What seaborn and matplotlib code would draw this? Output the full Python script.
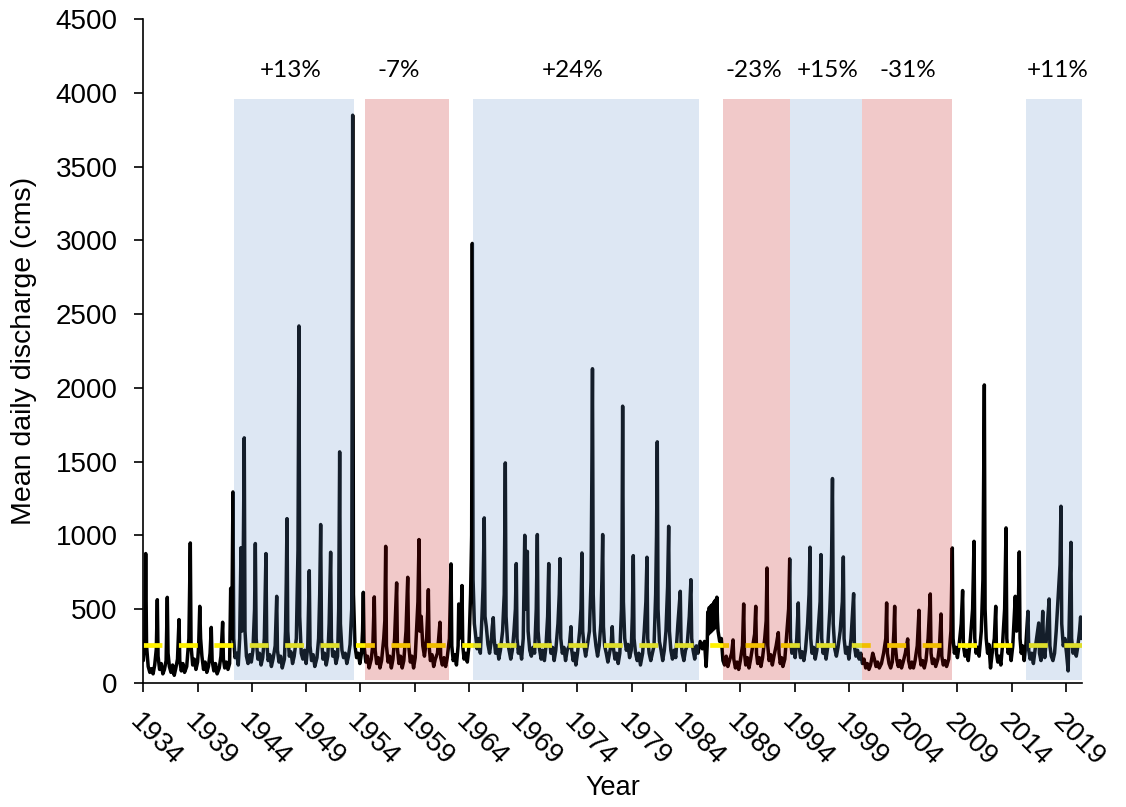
import matplotlib
matplotlib.use("Agg")
import matplotlib.pyplot as plt
import pandas as pd
import seaborn as sns

# ---- hand-read discharge readings (decimal year, cms) ----
readings_1930s = [
    (1934.00, 150), (1934.15, 300), (1934.22, 876), (1934.30, 250), (1934.45, 110), (1934.60, 70), (1934.75, 95), (1934.90, 60),
    (1935.05, 120), (1935.20, 230), (1935.29, 563), (1935.36, 180), (1935.50, 90), (1935.65, 130), (1935.80, 60), (1935.95, 90),
    (1936.10, 150), (1936.21, 579), (1936.28, 200), (1936.40, 110), (1936.55, 70), (1936.70, 120), (1936.85, 50),
    (1937.00, 100), (1937.15, 160), (1937.29, 428), (1937.36, 150), (1937.50, 80), (1937.65, 130), (1937.80, 70),
    (1938.00, 110), (1938.20, 300), (1938.33, 948), (1938.40, 250), (1938.55, 120), (1938.70, 160), (1938.85, 90),
    (1939.00, 140), (1939.10, 250), (1939.20, 518), (1939.28, 300), (1939.40, 180), (1939.55, 90), (1939.70, 140), (1939.85, 70),
]
readings_1940s = [
    (1940.00, 110), (1940.15, 200), (1940.26, 375), (1940.34, 150), (1940.50, 80), (1940.65, 130), (1940.80, 60),
    (1941.00, 100), (1941.15, 180), (1941.31, 410), (1941.38, 160), (1941.50, 100), (1941.65, 140), (1941.80, 90), (1941.95, 130),
    (1942.05, 640), (1942.15, 300), (1942.26, 1294), (1942.33, 300), (1942.45, 170), (1942.60, 200), (1942.75, 120), (1942.88, 300),
    (1943.00, 916), (1943.08, 350), (1943.18, 600), (1943.30, 1661), (1943.37, 350), (1943.50, 180), (1943.65, 130), (1943.80, 190), (1943.95, 140),
    (1944.10, 220), (1944.25, 500), (1944.32, 944), (1944.40, 300), (1944.55, 160), (1944.70, 200), (1944.85, 120),
    (1945.00, 170), (1945.15, 300), (1945.30, 876), (1945.37, 280), (1945.50, 150), (1945.65, 190), (1945.80, 110), (1945.95, 160),
    (1946.15, 250), (1946.29, 586), (1946.36, 220), (1946.50, 140), (1946.65, 180), (1946.80, 100),
    (1947.00, 160), (1947.10, 350), (1947.17, 680), (1947.24, 1113), (1947.31, 350), (1947.45, 180), (1947.60, 210), (1947.75, 130), (1947.90, 180),
    (1948.10, 300), (1948.25, 900), (1948.34, 2420), (1948.41, 450), (1948.55, 200), (1948.70, 160), (1948.85, 220),
    (1949.00, 130), (1949.15, 250), (1949.29, 760), (1949.36, 250), (1949.50, 150), (1949.65, 190), (1949.80, 110),
]
readings_1950s = [
    (1950.00, 170), (1950.15, 300), (1950.25, 600), (1950.34, 1073), (1950.42, 300), (1950.55, 160), (1950.70, 200), (1950.85, 120),
    (1951.00, 180), (1951.12, 400), (1951.26, 885), (1951.33, 300), (1951.45, 180), (1951.60, 210), (1951.75, 130), (1951.90, 180),
    (1952.00, 500), (1952.09, 1566), (1952.16, 400), (1952.30, 220), (1952.45, 170), (1952.60, 200), (1952.75, 130), (1952.90, 180),
    (1953.05, 260), (1953.20, 500), (1953.29, 3850), (1953.36, 600), (1953.50, 250), (1953.65, 170), (1953.80, 200), (1953.95, 130),
    (1954.10, 200), (1954.20, 350), (1954.27, 613), (1954.34, 250), (1954.50, 140), (1954.65, 180), (1954.80, 100),
    (1955.00, 160), (1955.15, 260), (1955.28, 582), (1955.36, 220), (1955.50, 130), (1955.65, 170), (1955.80, 100), (1955.95, 150),
    (1956.15, 300), (1956.25, 420), (1956.33, 925), (1956.40, 250), (1956.55, 140), (1956.70, 180), (1956.85, 100),
    (1957.00, 160), (1957.15, 300), (1957.34, 677), (1957.41, 230), (1957.55, 130), (1957.70, 180), (1957.85, 100),
    (1958.00, 150), (1958.20, 350), (1958.36, 715), (1958.44, 260), (1958.60, 140), (1958.75, 180), (1958.90, 100),
    (1959.05, 170), (1959.20, 400), (1959.30, 550), (1959.40, 971), (1959.47, 350), (1959.60, 450), (1959.75, 250), (1959.90, 180),
]
readings_1960s = [
    (1960.10, 300), (1960.20, 480), (1960.26, 631), (1960.33, 250), (1960.45, 150), (1960.60, 190), (1960.75, 110), (1960.90, 160),
    (1961.10, 200), (1961.33, 410), (1961.40, 170), (1961.55, 120), (1961.70, 170), (1961.85, 110),
    (1962.00, 170), (1962.20, 300), (1962.35, 806), (1962.42, 250), (1962.55, 150), (1962.70, 190), (1962.85, 120),
    (1963.00, 250), (1963.06, 534), (1963.12, 300), (1963.25, 350), (1963.36, 659), (1963.43, 250), (1963.55, 160), (1963.70, 200), (1963.85, 140),
    (1964.00, 250), (1964.15, 600), (1964.25, 1000), (1964.31, 2980), (1964.38, 700), (1964.50, 400), (1964.60, 330), (1964.75, 230), (1964.90, 300),
    (1965.05, 200), (1965.20, 450), (1965.30, 650), (1965.41, 1118), (1965.48, 450), (1965.60, 380), (1965.75, 260), (1965.90, 200),
    (1966.05, 280), (1966.15, 380), (1966.24, 441), (1966.32, 300), (1966.45, 200), (1966.60, 250), (1966.75, 160), (1966.90, 220),
    (1967.10, 350), (1967.25, 600), (1967.35, 1491), (1967.42, 450), (1967.55, 280), (1967.70, 220), (1967.85, 160),
    (1968.00, 220), (1968.15, 350), (1968.28, 500), (1968.36, 808), (1968.43, 300), (1968.55, 200), (1968.70, 240), (1968.85, 160),
    (1969.00, 300), (1969.14, 1000), (1969.22, 500), (1969.30, 600), (1969.38, 891), (1969.45, 350), (1969.60, 220), (1969.75, 180), (1969.90, 240),
]
readings_1970s = [
    (1970.05, 200), (1970.20, 500), (1970.30, 1005), (1970.37, 350), (1970.50, 230), (1970.65, 160), (1970.80, 220), (1970.95, 150),
    (1971.10, 250), (1971.25, 450), (1971.35, 808), (1971.42, 300), (1971.55, 200), (1971.70, 240), (1971.85, 150),
    (1972.00, 220), (1972.20, 400), (1972.32, 600), (1972.39, 842), (1972.46, 300), (1972.60, 200), (1972.75, 240), (1972.90, 150),
    (1973.05, 220), (1973.25, 250), (1973.40, 380), (1973.47, 220), (1973.60, 150), (1973.72, 200), (1973.85, 120),
    (1974.00, 200), (1974.20, 350), (1974.32, 500), (1974.41, 880), (1974.48, 350), (1974.60, 250), (1974.75, 180), (1974.90, 250),
    (1975.10, 350), (1975.25, 700), (1975.32, 1380), (1975.38, 2130), (1975.45, 600), (1975.55, 350), (1975.70, 250), (1975.85, 180),
    (1976.00, 250), (1976.15, 400), (1976.25, 700), (1976.32, 1005), (1976.39, 380), (1976.50, 250), (1976.65, 200), (1976.80, 140), (1976.95, 200),
    (1977.10, 260), (1977.20, 380), (1977.28, 250), (1977.45, 160), (1977.60, 200), (1977.75, 130), (1977.90, 200),
    (1978.05, 500), (1978.10, 850), (1978.16, 1876), (1978.23, 550), (1978.35, 300), (1978.50, 220), (1978.65, 260), (1978.80, 170), (1978.95, 220),
    (1979.05, 450), (1979.14, 862), (1979.21, 300), (1979.35, 200), (1979.50, 150), (1979.65, 200), (1979.80, 120),
]
readings_1980s = [
    (1980.00, 200), (1980.15, 350), (1980.30, 550), (1980.40, 851), (1980.47, 300), (1980.60, 200), (1980.75, 150), (1980.90, 200),
    (1981.05, 250), (1981.20, 600), (1981.28, 1000), (1981.35, 1634), (1981.42, 500), (1981.55, 280), (1981.70, 220), (1981.85, 150),
    (1982.00, 220), (1982.15, 350), (1982.30, 650), (1982.40, 1061), (1982.47, 350), (1982.60, 220), (1982.75, 160), (1982.90, 220),
    (1983.05, 170), (1983.25, 400), (1983.47, 620), (1983.54, 280), (1983.65, 200), (1983.80, 150), (1983.95, 220),
    (1984.10, 250), (1984.30, 450), (1984.45, 699), (1984.52, 300), (1984.65, 220), (1984.80, 160), (1984.95, 250),
    (1985.10, 200), (1985.30, 280), (1985.50, 230), (1985.70, 280), (1985.85, 110), (1985.95, 250),
    (1986.00, 480), (1986.07, 330), (1986.14, 510), (1986.21, 340), (1986.28, 520), (1986.35, 350), (1986.42, 530),
    (1986.49, 360), (1986.56, 545), (1986.63, 370), (1986.70, 560), (1986.77, 380), (1986.84, 580), (1986.90, 420), (1986.95, 350),
    (1987.10, 280), (1987.25, 300), (1987.40, 150), (1987.55, 120), (1987.70, 180), (1987.85, 110),
    (1988.00, 150), (1988.20, 200), (1988.33, 290), (1988.40, 160), (1988.55, 100), (1988.70, 140), (1988.85, 90),
    (1989.00, 150), (1989.20, 250), (1989.31, 534), (1989.38, 200), (1989.50, 120), (1989.65, 170), (1989.80, 100), (1989.95, 160),
]
readings_1990s = [
    (1990.15, 250), (1990.32, 330), (1990.42, 518), (1990.49, 200), (1990.60, 130), (1990.75, 170), (1990.90, 110),
    (1991.05, 170), (1991.25, 300), (1991.38, 420), (1991.46, 778), (1991.53, 250), (1991.65, 150), (1991.80, 190), (1991.95, 120),
    (1992.10, 180), (1992.30, 250), (1992.50, 340), (1992.57, 200), (1992.68, 130), (1992.80, 170), (1992.92, 110),
    (1993.10, 160), (1993.30, 350), (1993.45, 500), (1993.55, 840), (1993.62, 300), (1993.75, 200), (1993.90, 250),
    (1994.05, 170), (1994.20, 300), (1994.34, 541), (1994.41, 250), (1994.55, 170), (1994.70, 210), (1994.85, 150),
    (1995.00, 220), (1995.20, 400), (1995.33, 600), (1995.42, 919), (1995.49, 300), (1995.60, 200), (1995.75, 240), (1995.90, 160),
    (1996.05, 220), (1996.20, 380), (1996.35, 550), (1996.43, 869), (1996.50, 300), (1996.62, 200), (1996.75, 240), (1996.90, 160),
    (1997.05, 240), (1997.25, 500), (1997.40, 800), (1997.49, 1385), (1997.56, 400), (1997.70, 230), (1997.85, 180),
    (1998.00, 240), (1998.20, 350), (1998.40, 550), (1998.49, 853), (1998.56, 300), (1998.70, 200), (1998.85, 240),
    (1999.00, 160), (1999.20, 300), (1999.44, 604), (1999.51, 250), (1999.65, 180), (1999.80, 220), (1999.95, 160),
]
readings_2000s = [
    (2000.10, 200), (2000.25, 130), (2000.40, 160), (2000.55, 100), (2000.70, 130), (2000.85, 90),
    (2001.00, 120), (2001.20, 200), (2001.35, 160), (2001.50, 110), (2001.65, 140), (2001.80, 100),
    (2002.00, 130), (2002.20, 200), (2002.40, 300), (2002.48, 541), (2002.55, 200), (2002.70, 130), (2002.85, 100),
    (2003.00, 140), (2003.15, 350), (2003.22, 518), (2003.28, 250), (2003.40, 160), (2003.55, 110), (2003.70, 150), (2003.85, 100),
    (2004.00, 140), (2004.20, 200), (2004.42, 297), (2004.50, 150), (2004.65, 100), (2004.80, 140), (2004.95, 100),
    (2005.10, 150), (2005.30, 250), (2005.46, 491), (2005.53, 180), (2005.65, 120), (2005.80, 150), (2005.95, 100),
    (2006.10, 150), (2006.30, 300), (2006.50, 602), (2006.57, 200), (2006.70, 130), (2006.85, 160),
    (2007.00, 110), (2007.20, 160), (2007.35, 250), (2007.49, 466), (2007.56, 180), (2007.70, 120), (2007.85, 150),
    (2008.00, 110), (2008.20, 160), (2008.40, 350), (2008.53, 914), (2008.60, 300), (2008.72, 200), (2008.85, 240),
    (2009.00, 170), (2009.15, 250), (2009.35, 400), (2009.48, 625), (2009.55, 250), (2009.70, 180), (2009.85, 220),
]
readings_2010s = [
    (2010.00, 150), (2010.20, 300), (2010.40, 500), (2010.53, 959), (2010.60, 300), (2010.72, 200), (2010.85, 240),
    (2011.00, 180), (2011.20, 350), (2011.35, 700), (2011.48, 2020), (2011.55, 500), (2011.65, 300), (2011.78, 200), (2011.90, 260),
    (2012.05, 100), (2012.20, 200), (2012.40, 300), (2012.53, 518), (2012.60, 200), (2012.72, 140), (2012.85, 180),
    (2013.00, 120), (2013.15, 250), (2013.35, 500), (2013.48, 1050), (2013.55, 300), (2013.67, 200), (2013.80, 240), (2013.95, 150),
    (2014.10, 250), (2014.33, 586), (2014.45, 350), (2014.60, 450), (2014.70, 887), (2014.77, 300), (2014.88, 200),
    (2015.00, 250), (2015.15, 150), (2015.30, 250), (2015.50, 484), (2015.57, 220), (2015.70, 160), (2015.85, 200),
    (2016.00, 130), (2016.20, 250), (2016.49, 405), (2016.56, 200), (2016.70, 150), (2016.86, 484), (2016.93, 250),
    (2017.05, 170), (2017.20, 300), (2017.45, 568), (2017.52, 250), (2017.65, 180), (2017.80, 150), (2017.95, 200),
    (2018.10, 350), (2018.30, 600), (2018.45, 800), (2018.54, 1197), (2018.61, 400), (2018.75, 250), (2018.90, 300),
    (2019.05, 200), (2019.20, 80), (2019.35, 600), (2019.46, 952), (2019.52, 300), (2019.65, 200), (2019.80, 250), (2019.95, 180),
    (2020.10, 250), (2020.25, 350), (2020.35, 446), (2020.42, 300),
]

# long-term mean daily discharge (dashed yellow line)
mean_flow = 255

# trend periods (shaded) and their change labels
period_start = [1942.38, 1954.42, 1964.40, 1987.43, 1993.58, 2000.22, 2015.29]
period_end = [1953.44, 1962.19, 1985.22, 1993.58, 2000.22, 2008.48, 2020.45]
period_change = ["+13%", "-7%", "+24%", "-23%", "+15%", "-31%", "+11%"]
label_year = [1947.55, 1957.54, 1973.58, 1990.22, 1997.03, 2004.47, 2018.24]
label_level = 4150
shade_low, shade_high = 18, 3960

x_ticks = list(range(1934, 2020, 5))
y_ticks = list(range(0, 4501, 500))

# ---- styling ----
sns.set_theme(style="ticks")
plt.rcParams["font.family"] = ["Liberation Sans", "DejaVu Sans"]

W, H = 1126, 807
fig = plt.figure(figsize=(W / 100, H / 100), dpi=100)
left_px, right_px, top_px, bottom_px = 143.3, 1081.7, 19.4, 682.7
ax = fig.add_axes([left_px / W, 1 - bottom_px / H, (right_px - left_px) / W, (bottom_px - top_px) / H])

all_readings = (readings_1930s + readings_1940s + readings_1950s + readings_1960s
                + readings_1970s + readings_1980s + readings_1990s + readings_2000s + readings_2010s)
df = pd.DataFrame(all_readings, columns=["year", "cms"])

sns.lineplot(data=df, x="year", y="cms", ax=ax, color="black", linewidth=2.5,
             estimator=None, sort=False, zorder=2)

mean_line = ax.axhline(mean_flow, color="#fff200", linewidth=3.4, zorder=2.5)
mean_line.set_dashes((4.0, 3.5))

for s, e, chg, lx in zip(period_start, period_end, period_change, label_year):
    col = "#5f8fc8" if chg.startswith("+") else "#be0000"
    ax.fill_between([s, e], [shade_low, shade_low], [shade_high, shade_high],
                    color=col, alpha=0.21, linewidth=0, zorder=3)
    ax.text(lx, label_level, chg, ha="center", va="center", fontsize=17.5,
            family=["Lato", "DejaVu Sans"], color="black")

ax.set_xlim(1934.0, 2020.45)
ax.set_ylim(0, 4500)
ax.set_xticks(x_ticks)
ax.set_xticklabels([str(t) for t in x_ticks], rotation=-45, ha="left", rotation_mode="anchor")
ax.set_yticks(y_ticks)
ax.set_yticklabels([str(t) for t in y_ticks])

ax.tick_params(axis="x", direction="out", length=6.5, width=1.2, pad=12, labelsize=20, colors="black")
ax.tick_params(axis="y", direction="out", length=6.5, width=1.2, pad=12, labelsize=20, colors="black")

sns.despine(ax=ax)
for sp in ["left", "bottom"]:
    ax.spines[sp].set_color("black")
    ax.spines[sp].set_linewidth(1.2)

ax.set_xlabel("Year", fontsize=19.5, color="black")
ax.set_ylabel("Mean daily discharge (cms)", fontsize=20.5, color="black")
ax.xaxis.set_label_coords(0.5, -0.1385)
ax.yaxis.set_label_coords(-0.1133, 0.5)

fig.savefig("out.png", dpi=100)
